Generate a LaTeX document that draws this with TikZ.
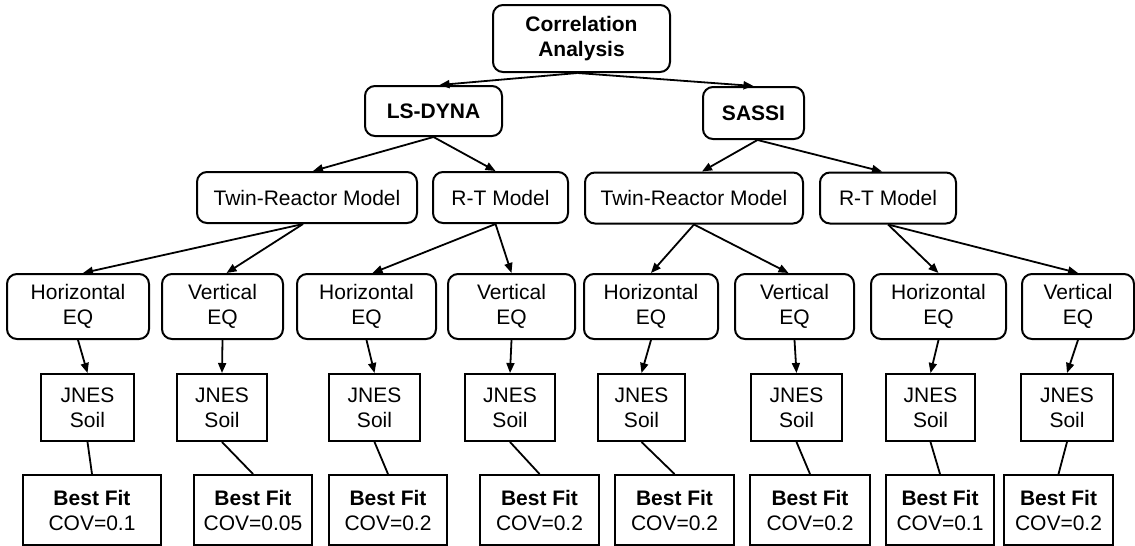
\documentclass[tikz,border=0pt]{standalone}
\usepackage{fontspec}
\setmainfont{Liberation Sans}
\usetikzlibrary{arrows.meta}
\begin{document}
\begin{tikzpicture}[x=0.5pt,y=-0.5pt,
  every node/.style={font=\fontsize{10.5}{12.5}\selectfont, align=center, inner sep=0pt, line width=1pt},
  rbox/.style={draw, rounded corners=5pt},
  sbox/.style={draw},
  sz/.style 2 args={minimum width=#1*0.5pt, minimum height=#2*0.5pt},
  arr/.style={line width=0.9pt, -{Triangle[length=5pt,width=4pt]}},
  ln/.style={line width=0.9pt}]
\useasboundingbox (0,0) rectangle (1135,546);
% level 0
\node[rbox,sz={177}{67}] (ca) at (581.5,38.5) {\bfseries Correlation\\\bfseries Analysis};
% level 1
\node[rbox,sz={137}{50}] (ls) at (433.5,111) {\bfseries LS-DYNA};
\node[rbox,sz={101}{52}] (sa) at (753.5,113) {\bfseries SASSI};
% level 2
\node[rbox,sz={220}{51}] (trl) at (307,197.5) {Twin-Reactor Model};
\node[rbox,sz={135}{51}] (rtl) at (500.5,197.5) {R-T Model};
\node[rbox,sz={218}{51}] (trs) at (694,198) {Twin-Reactor Model};
\node[rbox,sz={136}{51}] (rts) at (888,198) {R-T Model};
% level 3
\node[rbox,sz={142}{65}] (h1) at (78,306.5) {Horizontal\\EQ};
\node[rbox,sz={121}{65}] (v1) at (222.5,306.5) {Vertical\\EQ};
\node[rbox,sz={139}{65}] (h2) at (366.5,306.5) {Horizontal\\EQ};
\node[rbox,sz={127}{65}] (v2) at (511.5,306.5) {Vertical\\EQ};
\node[rbox,sz={134}{65}] (h3) at (651,306.5) {Horizontal\\EQ};
\node[rbox,sz={119}{65}] (v3) at (794.5,306.5) {Vertical\\EQ};
\node[rbox,sz={135}{65}] (h4) at (938.5,306.5) {Horizontal\\EQ};
\node[rbox,sz={112}{65}] (v4) at (1078,306.5) {Vertical\\EQ};
% level 4
\node[sbox,sz={93}{67}] (j1) at (87.5,407.5) {JNES\\Soil};
\node[sbox,sz={90}{67}] (j2) at (222,407.5) {JNES\\Soil};
\node[sbox,sz={91}{67}] (j3) at (374.5,407.5) {JNES\\Soil};
\node[sbox,sz={90}{67}] (j4) at (510,407.5) {JNES\\Soil};
\node[sbox,sz={87}{67}] (j5) at (641.5,407.5) {JNES\\Soil};
\node[sbox,sz={91}{67}] (j6) at (796.5,407.5) {JNES\\Soil};
\node[sbox,sz={89}{67}] (j7) at (930.5,407.5) {JNES\\Soil};
\node[sbox,sz={92}{67}] (j8) at (1067,407.5) {JNES\\Soil};
% level 5
\node[sbox,sz={138}{70}] (b1) at (92,510) {\bfseries Best Fit\\COV=0.1};
\node[sbox,sz={118}{70}] (b2) at (253,510) {\bfseries Best Fit\\COV=0.05};
\node[sbox,sz={118}{70}] (b3) at (388,510) {\bfseries Best Fit\\COV=0.2};
\node[sbox,sz={119}{70}] (b4) at (539.5,510) {\bfseries Best Fit\\COV=0.2};
\node[sbox,sz={119}{70}] (b5) at (674.5,510) {\bfseries Best Fit\\COV=0.2};
\node[sbox,sz={120}{70}] (b6) at (810,510) {\bfseries Best Fit\\COV=0.2};
\node[sbox,sz={108}{70}] (b7) at (940,510) {\bfseries Best Fit\\COV=0.1};
\node[sbox,sz={109}{70}] (b8) at (1058.5,510) {\bfseries Best Fit\\COV=0.2};
% connectors
\draw[arr] ([xshift=-2pt]ca.south) -- ([xshift=3pt]ls.north);
\draw[arr] ([xshift=-2pt]ca.south) -- (sa.north);
\draw[arr] (ls.south) -- ([xshift=3pt]trl.north);
\draw[arr] (ls.south) -- ([xshift=-2.5pt]rtl.north);
\draw[arr] ([xshift=2pt]sa.south) -- ([xshift=4pt]trs.north);
\draw[arr] ([xshift=2pt]sa.south) -- ([xshift=-3pt]rts.north);
\draw[arr] ([xshift=-2pt]trl.south) -- ([xshift=2.5pt]h1.north);
\draw[arr] ([xshift=-2pt]trl.south) -- ([xshift=2pt]v1.north);
\draw[arr] ([xshift=-2.5pt]rtl.south) -- ([xshift=3pt]h2.north);
\draw[arr] ([xshift=-2.5pt]rtl.south) -- (v2.north);
\draw[arr] (trs.south) -- (h3.north);
\draw[arr] (trs.south) -- ([xshift=-3pt]v3.north);
\draw[arr] (rts.south) -- (h4.north);
\draw[arr] (rts.south) -- (v4.north);
\foreach \i in {1,...,4} {
  \draw[arr] (h\i.south) -- (j\the\numexpr2*\i-1\relax.north);
}
\draw[arr] (v1.south) -- (j2.north);
\draw[arr] (v2.south) -- (j4.north);
\draw[arr] (v3.south) -- (j6.north);
\draw[arr] (v4.south) -- (j8.north);
\foreach \i in {1,...,8} {
  \draw[ln] (j\i.south) -- (b\i.north);
}
\end{tikzpicture}
\end{document}
